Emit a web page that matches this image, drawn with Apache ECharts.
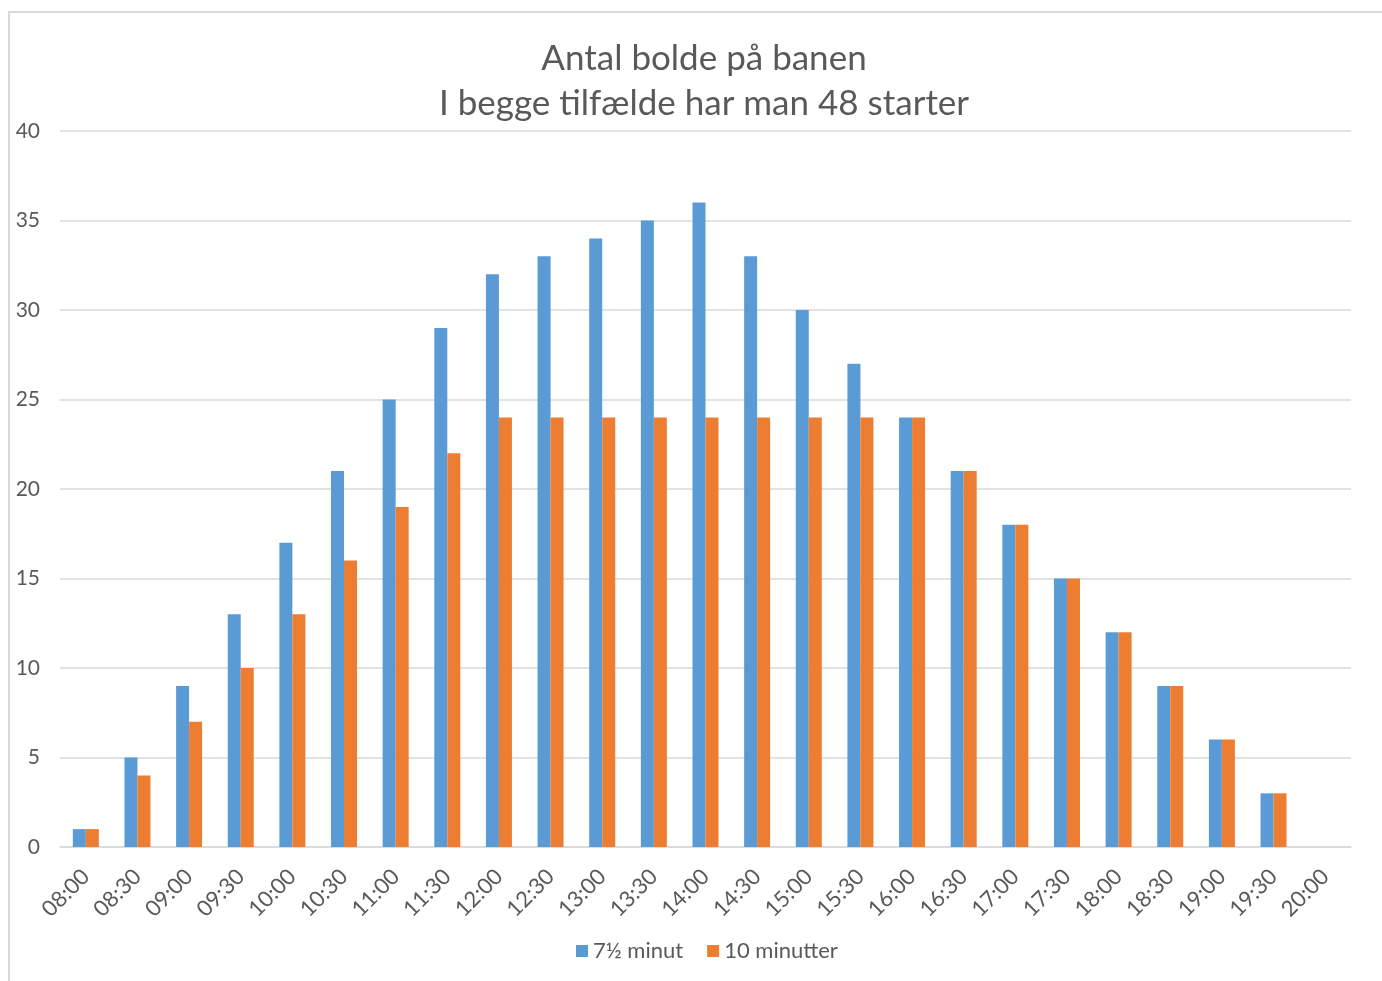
<!DOCTYPE html>
<html>
<head>
<meta charset="utf-8">
<script src="https://cdn.jsdelivr.net/npm/echarts@6/dist/echarts.min.js"></script>
<style>
html,body{margin:0;padding:0;background:#fff;}
#frame{position:absolute;left:8px;top:11px;width:1400px;height:1000px;border-left:2px solid #d9d9d9;border-top:2px solid #d9d9d9;}
#chart{position:absolute;left:0;top:0;width:1382px;height:981px;}
</style>
</head>
<body>
<div id="frame"></div>
<div id="chart"></div>
<script>
const categories = ["08:00","08:30","09:00","09:30","10:00","10:30","11:00","11:30","12:00","12:30","13:00","13:30","14:00","14:30","15:00","15:30","16:00","16:30","17:00","17:30","18:00","18:30","19:00","19:30","20:00"];
const seriesNames = ["7½ minut","10 minutter"];
const valuesA = [1,5,9,13,17,21,25,29,32,33,34,35,36,33,30,27,24,21,18,15,12,9,6,3,null];
const valuesB = [1,4,7,10,13,16,19,22,24,24,24,24,24,24,24,24,24,21,18,15,12,9,6,3,null];
const titleLines = ["Antal bolde på banen","I begge tilfælde har man 48 starter"];

const font = 'Lato, "Open Sans", sans-serif';
const chart = echarts.init(document.getElementById('chart'), null, {renderer:'canvas'});
chart.setOption({
  animation:false,
  backgroundColor:'transparent',
  title:{
    text: titleLines.join('\n'),
    left: 699, textAlign:'center', top: 31,
    textStyle:{fontFamily:font, fontSize:35, fontWeight:'normal', color:'#595959', lineHeight:45}
  },
  legend:{
    bottom: 14, left: 571,
    itemWidth:12, itemHeight:12, itemGap:24,
    icon:'rect',
    textStyle:{fontFamily:font, fontSize:22, color:'#595959'},
    data: seriesNames
  },
  grid:{left:60, right:31, top:131, bottom:134, containLabel:false},
  xAxis:{
    type:'category', data:categories,
    axisLine:{lineStyle:{color:'#d9d9d9', width:1.5}},
    axisTick:{show:false},
    axisLabel:{rotate:45, interval:0, fontFamily:font, fontSize:22, color:'#595959', margin:26}
  },
  yAxis:{
    type:'value', min:0, max:40, interval:5,
    axisLine:{show:false}, axisTick:{show:false},
    splitLine:{lineStyle:{color:'#d9d9d9', width:1.5}},
    axisLabel:{fontFamily:font, fontSize:21, color:'#595959', margin:20}
  },
  series:[
    {name:seriesNames[0], type:'bar', data:valuesA, barWidth:13, barGap:'0%', itemStyle:{color:'#5B9BD5'}},
    {name:seriesNames[1], type:'bar', data:valuesB, barWidth:13, barGap:'0%', itemStyle:{color:'#ED7D31'}}
  ]
});
</script>
</body>
</html>
